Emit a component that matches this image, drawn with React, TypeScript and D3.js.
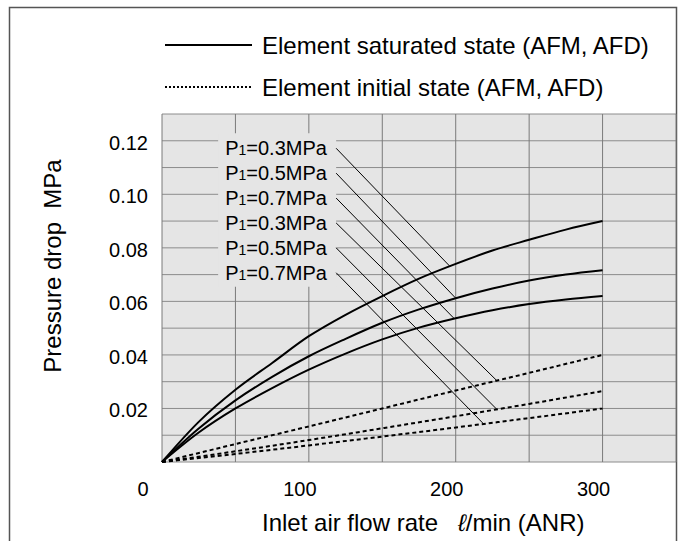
import React from 'react';
import * as d3 from 'd3';

// ---- data ----
const flowSat = [0, 25, 50, 75, 100, 125, 150, 175, 200, 225, 250, 275, 300];
const satP03 = [0, 0.015, 0.027, 0.037, 0.047, 0.055, 0.062, 0.0685, 0.074, 0.079, 0.083, 0.0868, 0.09];
const satP05 = [0, 0.0125, 0.023, 0.0318, 0.0395, 0.046, 0.052, 0.057, 0.0612, 0.0648, 0.0678, 0.07, 0.0716];
const satP07 = [0, 0.011, 0.02, 0.0276, 0.0345, 0.0405, 0.0458, 0.0502, 0.0537, 0.0567, 0.059, 0.0607, 0.062];
const flowInit = [0, 50, 100, 150, 200, 250, 300];
const initP03 = [0, 0.0067, 0.0133, 0.02, 0.0267, 0.0333, 0.04];
const initP05 = [0, 0.004, 0.0082, 0.0126, 0.0171, 0.0217, 0.0265];
const initP07 = [0, 0.003, 0.0062, 0.0095, 0.0129, 0.0164, 0.02];

const xTicks = [0, 100, 200, 300];
const yTicks = [0.02, 0.04, 0.06, 0.08, 0.1, 0.12];
const xGrid = [0, 50, 100, 150, 200, 250, 300, 350];
const yGrid = [0, 0.01, 0.02, 0.03, 0.04, 0.05, 0.06, 0.07, 0.08, 0.09, 0.1, 0.11, 0.12, 0.13];

const pressureLabels = ['0.3', '0.5', '0.7', '0.3', '0.5', '0.7'];
const labelLevels = [0.1172, 0.1079, 0.0986, 0.0893, 0.08, 0.0707];
const labelFlow = 43;
const leaderFlow = [196, 200, 199, 228, 228, 219];

const legendItems = ['Element saturated state (AFM, AFD)', 'Element initial state (AFM, AFD)'];

const FONT = "'Liberation Sans', Arial, Helvetica, sans-serif";

export default function App() {
  const x = d3.scaleLinear().domain([0, 350]).range([162, 676]);
  const y = d3.scaleLinear().domain([0, 0.13]).range([462, 114]);

  const satSeries = [satP03, satP05, satP07];
  const initSeries = [initP03, initP05, initP07];

  const line = d3
    .line<[number, number]>()
    .x((d) => x(d[0]))
    .y((d) => y(d[1]))
    .curve(d3.curveMonotoneX);

  const seriesFor = (k: number) =>
    k < 3 ? { fx: flowSat, vals: satSeries[k] } : { fx: flowInit, vals: initSeries[k - 3] };

  const leaders = pressureLabels.map((_, k) => {
    const { fx, vals } = seriesFor(k);
    const interp = d3.scaleLinear().domain(fx).range(vals);
    const f = leaderFlow[k];
    return {
      x1: x(labelFlow) + 111,
      y1: y(labelLevels[k]),
      x2: x(f),
      y2: y(interp(f)),
    };
  });

  const plotL = x(0), plotR = x(350), plotT = y(0.13), plotB = y(0);
  const lblX = x(labelFlow);
  const bgTop = y(labelLevels[0]) - 15;
  const bgBot = y(labelLevels[5]) + 14;

  return (
    <svg
      width={682}
      height={541}
      style={{ position: 'absolute', left: 0, top: 0, background: '#fff' }}
      fontFamily={FONT}
    >
      <rect x={0} y={0} width={682} height={541} fill="#fff" />
      {/* outer frame */}
      <path d={`M9.5,545 L9.5,7.5 L676.5,7.5 L676.5,545`} fill="none" stroke="#555" strokeWidth={1.5} />

      {/* legend */}
      <line x1={165} x2={252} y1={45} y2={45} stroke="#000" strokeWidth={2} />
      <text x={262} y={45} dominantBaseline="central" fontSize={24} fill="#000">
        {legendItems[0]}
      </text>
      <line x1={165} x2={252} y1={87} y2={87} stroke="#000" strokeWidth={2} strokeDasharray="2,2" />
      <text x={262} y={87} dominantBaseline="central" fontSize={24} fill="#000">
        {legendItems[1]}
      </text>

      {/* plot background */}
      <rect x={plotL} y={plotT} width={plotR - plotL} height={plotB - plotT} fill="#e5e5e5" />
      {yGrid.map((v) => (
        <line key={'h' + v} x1={plotL} x2={plotR} y1={y(v)} y2={y(v)} stroke="#8c8c8c" strokeWidth={1} />
      ))}
      {xGrid.map((v) => (
        <line key={'v' + v} x1={x(v)} x2={x(v)} y1={plotT} y2={plotB} stroke="#7a7a7a" strokeWidth={1} />
      ))}

      {/* label background */}
      <rect x={lblX - 7} y={bgTop} width={118} height={bgBot - bgTop} fill="#e5e5e5" />

      {/* curves */}
      {satSeries.map((s, i) => (
        <path
          key={'s' + i}
          d={line(flowSat.map((f, j) => [f, s[j]]) as [number, number][]) || ''}
          fill="none"
          stroke="#000"
          strokeWidth={2}
        />
      ))}
      {initSeries.map((s, i) => (
        <path
          key={'i' + i}
          d={line(flowInit.map((f, j) => [f, s[j]]) as [number, number][]) || ''}
          fill="none"
          stroke="#000"
          strokeWidth={2}
          strokeDasharray="4,3"
        />
      ))}

      {/* leader lines */}
      {leaders.map((l, k) => (
        <line key={'l' + k} x1={l.x1} y1={l.y1} x2={l.x2} y2={l.y2} stroke="#000" strokeWidth={1} />
      ))}

      {/* pressure labels */}
      {pressureLabels.map((p, k) => (
        <text key={'t' + k} x={lblX} y={y(labelLevels[k])} dominantBaseline="central" fontSize={20} fill="#000">
          P
          <tspan fontSize={14} dy={2}>1</tspan>
          <tspan dy={-2}>{`=${p}MPa`}</tspan>
        </text>
      ))}

      {/* axes tick labels */}
      {yTicks.map((v) => (
        <text key={'yt' + v} x={148} y={y(v) + 2} textAnchor="end" dominantBaseline="central" fontSize={20} fill="#000">
          {v.toFixed(2)}
        </text>
      ))}
      {xTicks.map((v) => (
        <text
          key={'xt' + v}
          x={x(v) + (v === 0 ? -19 : -9)}
          y={489}
          textAnchor="middle"
          dominantBaseline="central"
          fontSize={20}
          fill="#000"
        >
          {v}
        </text>
      ))}

      {/* axis titles */}
      <text
        transform="translate(52,266) rotate(-90)"
        textAnchor="middle"
        dominantBaseline="central"
        fontSize={24}
        fill="#000"
        style={{ whiteSpace: 'pre' }}
      >
        {'Pressure drop  MPa'}
      </text>
      <text x={262} y={522} dominantBaseline="central" fontSize={24} fill="#000" style={{ whiteSpace: 'pre' }}>
        {'Inlet air flow rate   '}
        <tspan fontStyle="italic">ℓ</tspan>
        {'/min (ANR)'}
      </text>
    </svg>
  );
}
